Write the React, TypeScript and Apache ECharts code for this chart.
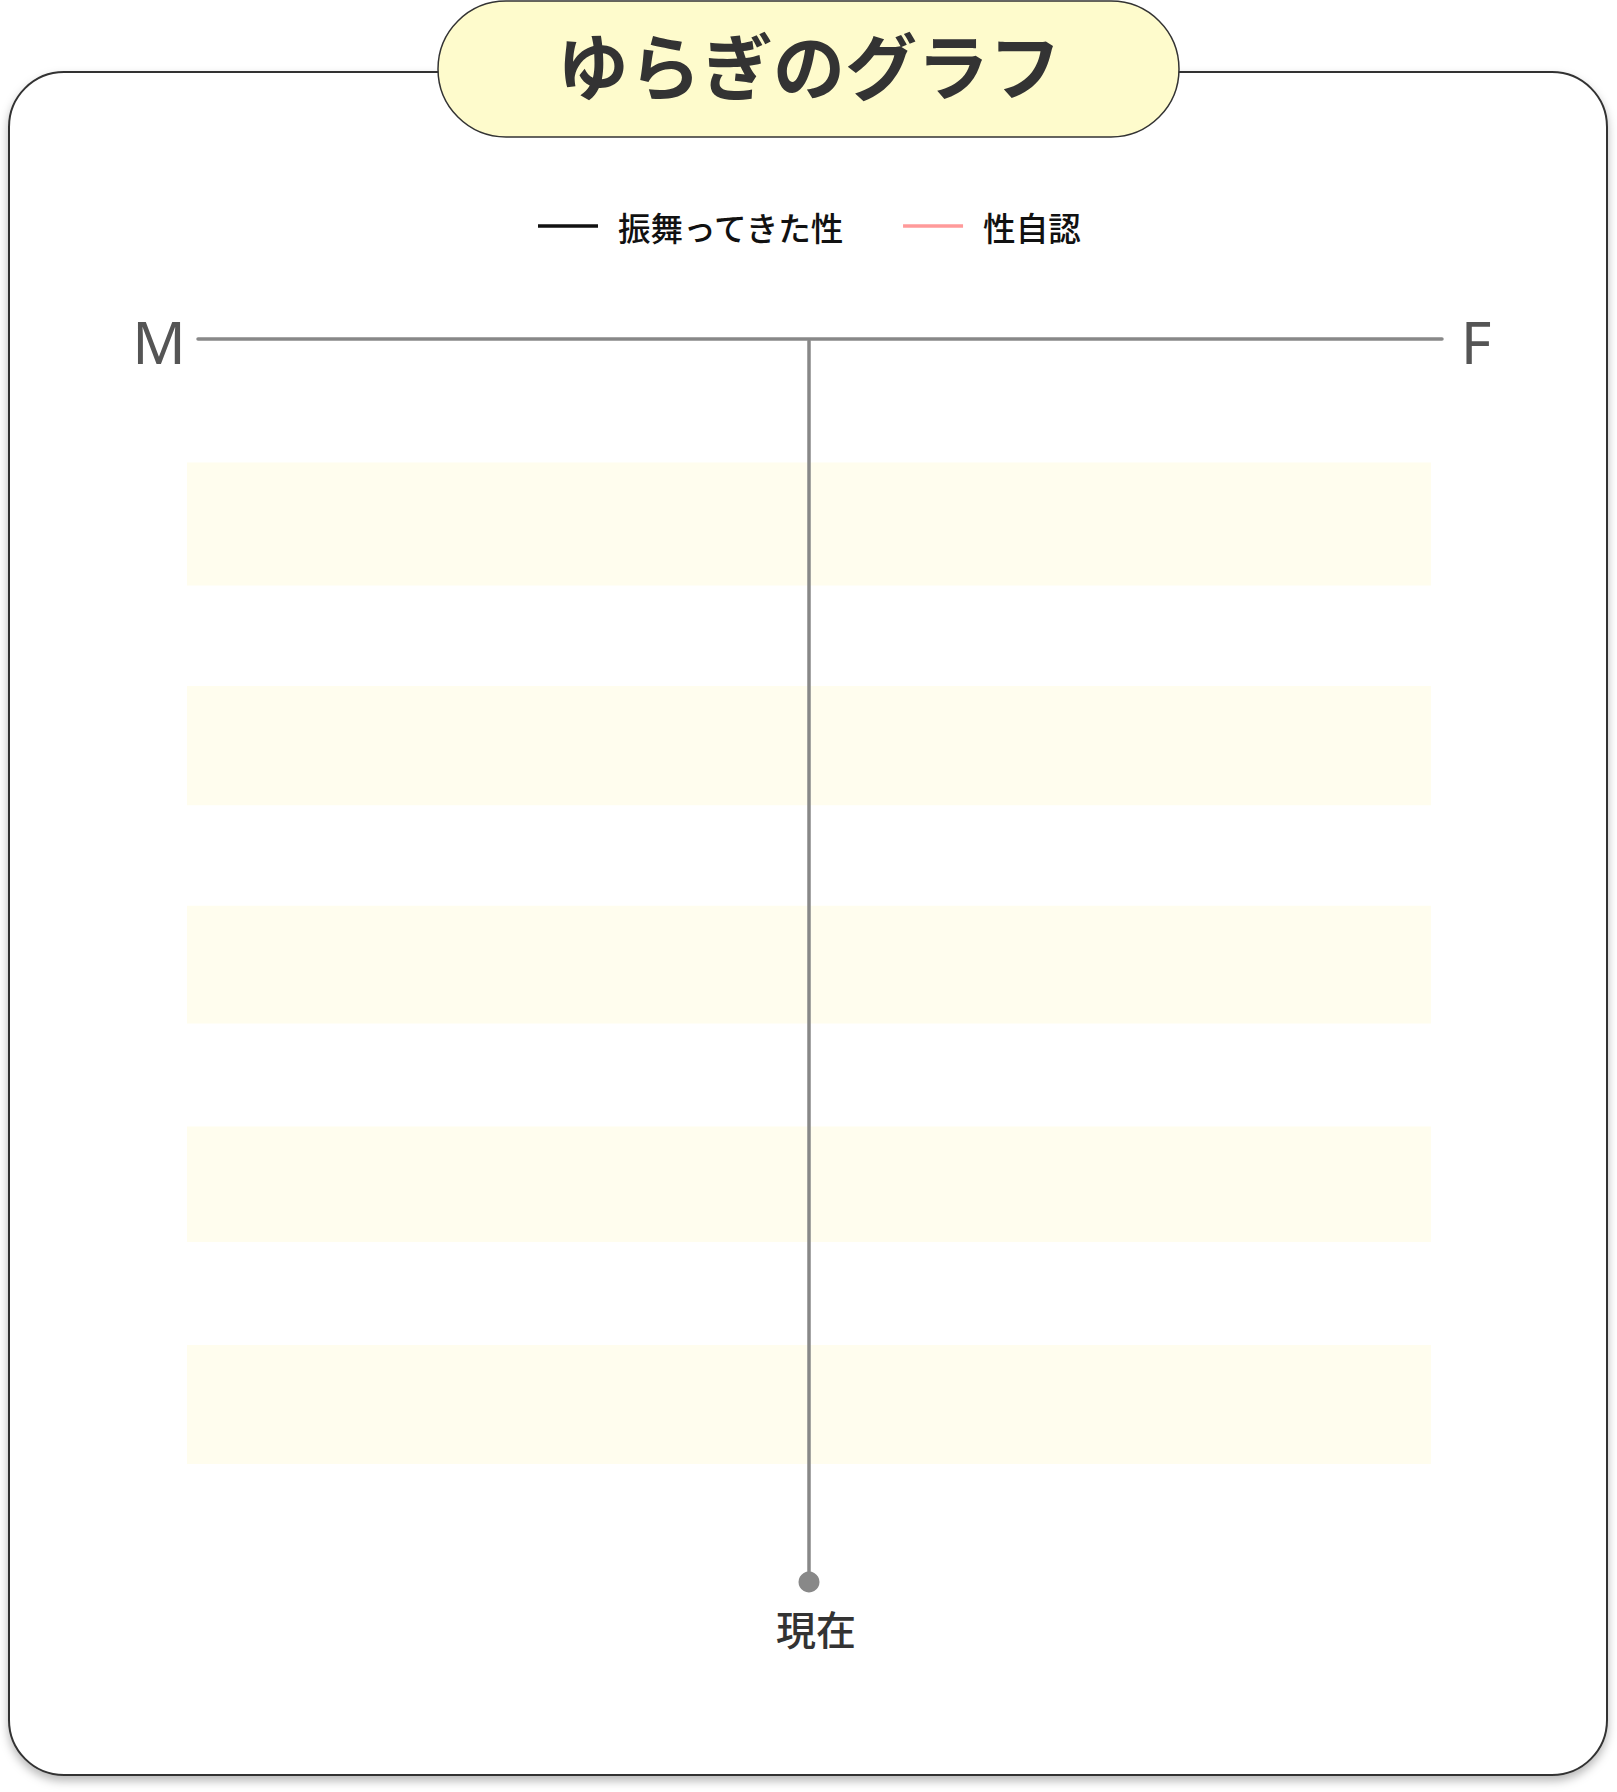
import React, { useEffect, useRef } from "react";
import * as echarts from "echarts";

const seriesNames = ["振舞ってきた性", "性自認"];
const seriesColors = ["#111111", "#ff9a9a"];
const behavedData: number[][] = [];
const identityData: number[][] = [];
const axisEnds = ["M", "F"];
const nowLabel = "現在";
const nowPoint = [[0, 100]];
const bandRanges = [
  [9.8, 19.7],
  [27.8, 37.4],
  [45.5, 55.0],
  [63.3, 72.6],
  [80.9, 90.5],
];
const titleText = "ゆらぎのグラフ";

export default function App() {
  const ref = useRef<HTMLDivElement>(null);
  useEffect(() => {
    document.body.style.margin = "0";
    const chart = echarts.init(ref.current!, null, { renderer: "svg" });
    const cjk = '"Noto Sans CJK JP", "Noto Sans", sans-serif';
    chart.setOption({
      animation: false,
      backgroundColor: "#ffffff",
      legend: {
        data: seriesNames,
        left: 533,
        top: 201,
        icon: "rect",
        itemWidth: 60,
        itemHeight: 3.5,
        itemGap: 57,
        textStyle: {
          fontSize: 32.6,
          fontWeight: 500,
          color: "#111",
          fontFamily: cjk,
          padding: [0, 0, 0, 15],
          lineHeight: 40,
        },
      },
      grid: { left: 187, right: 186, top: 341, bottom: 210 },
      xAxis: {
        type: "value",
        min: -1,
        max: 1,
        axisLine: { show: false },
        axisTick: { show: false },
        axisLabel: { show: false },
        splitLine: { show: false },
      },
      yAxis: {
        type: "value",
        inverse: true,
        min: 0,
        max: 100,
        z: 20,
        axisLine: {
          show: true,
          onZero: true,
          lineStyle: { color: "#888", width: 3.5, cap: "round" },
        },
        axisTick: { show: false },
        axisLabel: { show: false },
        splitLine: { show: false },
      },
      series: [
        {
          name: seriesNames[0],
          type: "line",
          data: behavedData,
          color: seriesColors[0],
          lineStyle: { width: 3.5 },
          showSymbol: false,
        },
        {
          name: seriesNames[1],
          type: "line",
          data: identityData,
          color: seriesColors[1],
          lineStyle: { width: 3.5 },
          showSymbol: false,
        },
        {
          name: nowLabel,
          type: "scatter",
          data: nowPoint,
          symbolSize: 21,
          itemStyle: { color: "#888", opacity: 1 },
          z: 25,
          label: {
            show: true,
            position: "bottom",
            distance: 15,
            offset: [7, 0],
            formatter: nowLabel,
            fontSize: 40,
            fontWeight: 500,
            color: "#333",
            opacity: 1,
            fontFamily: cjk,
          },
          markArea: {
            silent: true,
            z: 1,
            itemStyle: { color: "#fffdee", opacity: 1 },
            data: bandRanges.map((r) => [{ yAxis: r[0] }, { yAxis: r[1] }]),
          },
        },
      ],
      graphic: [
        {
          type: "rect",
          z: -10,
          shape: { x: 9, y: 72, width: 1598, height: 1703, r: 55 },
          style: {
            fill: "#ffffff",
            stroke: "#333",
            lineWidth: 2,
            shadowBlur: 10,
            shadowOffsetY: 5,
            shadowColor: "rgba(0,0,0,0.28)",
          },
        },
        {
          type: "rect",
          z: 10,
          shape: { x: 438, y: 1, width: 741, height: 136, r: 68 },
          style: { fill: "#fefbcc", stroke: "#333", lineWidth: 1.5 },
        },
        {
          type: "text",
          z: 11,
          x: 809,
          y: 62,
          style: {
            text: titleText,
            fontSize: 72,
            fontWeight: "bold",
            fontFamily: cjk,
            fill: "#333",
            align: "center",
            verticalAlign: "middle",
          },
        },
        {
          type: "line",
          z: 30,
          shape: { x1: 198, y1: 339, x2: 1442, y2: 339 },
          style: { stroke: "#888", lineWidth: 3.5, lineCap: "round" },
        },
        {
          type: "text",
          z: 5,
          x: 159,
          y: 341,
          style: {
            text: axisEnds[0],
            fontSize: 59,
            fontFamily: '"Noto Sans", sans-serif',
            fill: "#555",
            align: "center",
            verticalAlign: "middle",
          },
        },
        {
          type: "text",
          z: 5,
          x: 1476,
          y: 341,
          style: {
            text: axisEnds[1],
            fontSize: 59,
            fontFamily: '"Noto Sans", sans-serif',
            fill: "#555",
            align: "center",
            verticalAlign: "middle",
          },
        },
      ],
    });
    return () => chart.dispose();
  }, []);
  return <div ref={ref} style={{ width: 1617, height: 1792 }} />;
}
